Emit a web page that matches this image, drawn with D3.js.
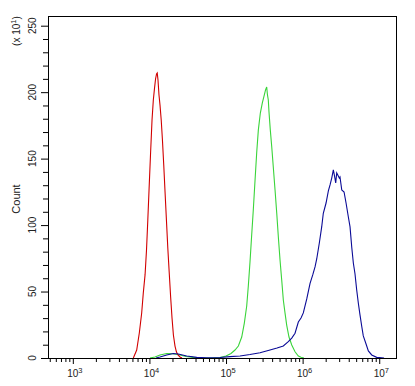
<!DOCTYPE html>
<html><head><meta charset="utf-8">
<script src="https://cdn.jsdelivr.net/npm/d3@7"></script>
<style>
html,body{margin:0;padding:0;background:#fff;}
svg text{font-family:"Liberation Sans",Arial,sans-serif;fill:#222;}
</style></head>
<body><svg id="c" width="415" height="386"></svg>
<script>
// Axis extents (log10 of fluorescence intensity) and count axis (x10^1)
const xDomainLog = [2.676, 7.219];
const yDomain = [0, 257.3];
const xMajorExp = [3, 4, 5, 6, 7];
const yMajorTicks = [0, 50, 100, 150, 200, 250];
const yMinorTicks = [10,20,30,40,60,70,80,90,110,120,130,140,160,170,180,190,210,220,230,240];

// Red histogram: log10 intensity and count
const redLog = [3.790,3.834,3.868,3.899,3.920,3.943,3.962,3.979,3.995,4.014,4.034,4.051,4.067,4.080,4.093,4.102,4.112,4.125,4.138,4.154,4.170,4.187,4.204,4.222,4.240,4.258,4.277,4.295,4.313,4.334,4.353,4.373,4.399,4.425];
const redCount = [0,6.0,18.8,33.9,48.9,62.5,81.3,103.8,126.4,152.7,179.1,194.1,203.2,209.9,213.7,214.4,209.2,197.9,190.4,179.1,164.0,145.2,124.9,103.8,82.8,64.7,45.9,30.1,17.3,9.0,4.5,2.3,0.8,0];

// Green histogram
const greenLog = [4.008,4.073,4.138,4.226,4.308,4.399,4.478,4.569,4.661,4.791,4.922,5.000,5.065,5.117,5.161,5.205,5.239,5.270,5.291,5.313,5.335,5.356,5.379,5.401,5.422,5.448,5.474,5.496,5.516,5.531,5.541,5.552,5.561,5.578,5.597,5.617,5.640,5.662,5.683,5.705,5.727,5.748,5.770,5.792,5.822,5.858,5.901,5.944,5.979,6.018];
const greenCount = [0,0.8,2.3,3.4,3.2,2.3,1.1,0.5,0.2,0,0.4,1.5,3.4,6.0,9.0,15.8,26.3,39.1,54.2,72.2,92.6,111.4,133.9,155.0,171.6,184.3,191.9,197.1,201.7,203.9,197.9,194.1,185.1,171.6,158.8,143.7,126.4,109.1,91.0,73.7,58.7,43.6,33.9,24.8,15.8,9.8,4.7,1.5,0.5,0];

// Blue histogram
const blueLog = [4.086,4.138,4.226,4.312,4.377,4.487,4.618,4.748,4.922,5.052,5.183,5.313,5.444,5.574,5.666,5.748,5.813,5.858,5.901,5.944,5.979,6.009,6.054,6.097,6.132,6.162,6.184,6.218,6.249,6.270,6.306,6.336,6.358,6.380,6.401,6.414,6.432,6.445,6.466,6.479,6.488,6.511,6.541,6.567,6.597,6.619,6.641,6.662,6.684,6.706,6.727,6.749,6.771,6.792,6.828,6.858,6.902,6.967,7.033,7.063];
const blueCount = [0,0.8,2.3,3.4,3.0,1.5,0.5,0.2,0.4,1.0,1.5,2.6,4.0,6.0,7.5,9.0,12.3,15.0,18.6,27.1,30.1,33.9,44.4,56.2,62.5,68.5,74.5,86.5,98.6,108.9,116.6,125.7,130.2,135.4,141.5,137.7,131.7,139.2,136.9,135.4,136.2,126.4,124.9,116.6,106.1,98.6,83.5,71.5,63.2,51.2,41.4,32.4,24.1,16.6,10.5,5.3,2.3,0.5,0.2,0];

const series = [
  {name:"green", log: greenLog, count: greenCount, color:"#3ad43a"},
  {name:"red", log: redLog, count: redCount, color:"#d10000"},
  {name:"blue", log: blueLog, count: blueCount, color:"#0a0a96"}
];

const L = 48, R = 396, T = 16, B = 358;
const svg = d3.select("#c");
const x = d3.scaleLog().domain(xDomainLog.map(e => Math.pow(10, e))).range([L, R]);
const y = d3.scaleLinear().domain(yDomain).range([B, T]);

// curves
const line = d3.line().x(d => x(d[0])).y(d => y(d[1]));
series.forEach(s => {
  const pts = s.log.map((e, i) => [Math.pow(10, e), s.count[i]]);
  svg.append("path").attr("d", line(pts)).attr("fill", "none")
    .attr("stroke", s.color).attr("stroke-width", 1.1);
});

// x ticks
const xMinor = [];
for (let p = 2; p <= 7; p++) for (let k = 2; k <= 9; k++) {
  const v = k * Math.pow(10, p);
  if (v > x.domain()[0] && v < x.domain()[1]) xMinor.push(v);
}
const xMajor = xMajorExp.map(e => Math.pow(10, e));
svg.append("g").attr("transform", `translate(0,${B})`)
  .call(d3.axisBottom(x).tickValues(xMinor).tickSize(4).tickFormat(""))
  .call(g => g.select(".domain").remove())
  .call(g => g.selectAll("line").attr("stroke", "#000"));
svg.append("g").attr("transform", `translate(0,${B})`)
  .call(d3.axisBottom(x).tickValues(xMajor).tickSize(6).tickFormat(""))
  .call(g => g.select(".domain").remove())
  .call(g => g.selectAll("line").attr("stroke", "#000"));
xMajorExp.forEach(e => {
  const px = x(Math.pow(10, e));
  svg.append("text").attr("x", px).attr("y", 377).attr("text-anchor", "middle")
    .attr("font-size", 10).text("10");
  svg.append("text").attr("x", px + 5.5).attr("y", 372.5).attr("text-anchor", "start")
    .attr("font-size", 7.5).text(String(e));
});

// y ticks
svg.append("g").attr("transform", `translate(${L},0)`)
  .call(d3.axisLeft(y).tickValues(yMinorTicks).tickSize(5).tickFormat(""))
  .call(g => g.select(".domain").remove())
  .call(g => g.selectAll("line").attr("stroke", "#000"));
svg.append("g").attr("transform", `translate(${L},0)`)
  .call(d3.axisLeft(y).tickValues(yMajorTicks).tickSize(7).tickFormat(""))
  .call(g => g.select(".domain").remove())
  .call(g => g.selectAll("line").attr("stroke", "#000"));
yMajorTicks.forEach(v => {
  svg.append("text").attr("transform", `translate(35.5,${y(v)}) rotate(-90)`)
    .attr("text-anchor", "middle").attr("font-size", 10).text(String(v));
});

// frame
svg.append("rect").attr("x", L + 0.5).attr("y", T + 0.5).attr("width", R - L).attr("height", B - T)
  .attr("fill", "none").attr("stroke", "#000").attr("stroke-width", 1);

// axis titles
svg.append("text").attr("transform", `translate(19.5,${(T + B) / 2 + 12}) rotate(-90)`)
  .attr("text-anchor", "middle").attr("font-size", 11).text("Count");
const sc = svg.append("text").attr("transform", "translate(20,31) rotate(-90)")
  .attr("text-anchor", "middle").attr("font-size", 10);
sc.append("tspan").text("(x 10");
sc.append("tspan").attr("dy", -4).attr("font-size", 7.5).text("1");
sc.append("tspan").attr("dy", 4).text(")");
</script></body></html>
